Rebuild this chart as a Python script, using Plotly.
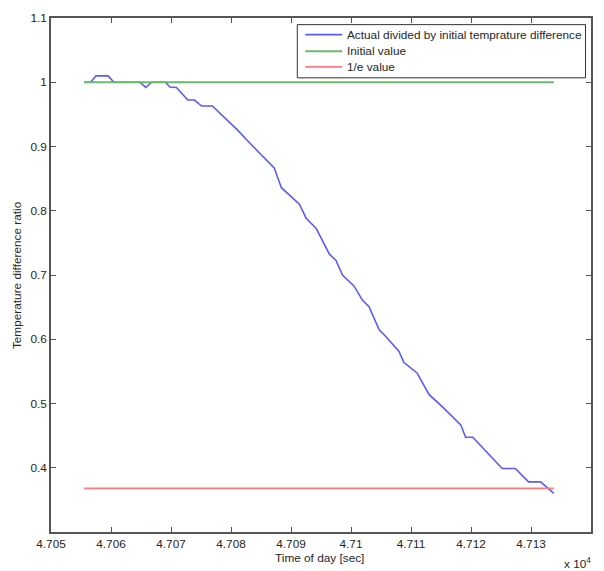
import plotly.graph_objects as go

# Measured ratio of actual to initial temperature difference
time_s = [47055.5, 47056.6, 47057.5, 47059.5, 47060.5, 47064.8, 47065.8, 47066.8,
          47069.1, 47069.8, 47070.9, 47072.8, 47073.9, 47075.1, 47076.9, 47080.2,
          47081.1, 47082.6, 47084.7, 47085.6, 47087.2, 47088.4, 47091.4, 47092.5,
          47094.2, 47096.4, 47097.5, 47098.6, 47100.5, 47101.9, 47103.0, 47104.7,
          47105.8, 47108.0, 47108.8, 47111.0, 47113.0, 47115.5, 47118.3, 47119.1,
          47120.3, 47125.2, 47127.4, 47129.6, 47131.6, 47133.8]
ratio = [1.0, 1.0, 1.01, 1.01, 1.0, 1.0, 0.992, 1.0,
         1.0, 0.9927, 0.9919, 0.9723, 0.9723, 0.963, 0.963, 0.9337,
         0.9255, 0.9105, 0.890, 0.8822, 0.8668, 0.8359, 0.8101, 0.7888,
         0.7726, 0.7324, 0.7227, 0.6995, 0.6830, 0.6609, 0.6506, 0.6146,
         0.6042, 0.5811, 0.5641, 0.5476, 0.5142, 0.4923, 0.4668, 0.4475,
         0.4475, 0.3988, 0.3988, 0.3780, 0.3780, 0.3602]

# Reference levels
ref_time = [47055.5, 47133.8]
initial_value = [1.0, 1.0]
inv_e_value = [0.3679, 0.3679]

x_ticks = [47050, 47060, 47070, 47080, 47090, 47100, 47110, 47120, 47130, 47140]
x_tick_labels = ["4.705", "4.706", "4.707", "4.708", "4.709", "4.71", "4.711", "4.712", "4.713", "4.714"]
y_ticks = [0.4, 0.5, 0.6, 0.7, 0.8, 0.9, 1.0, 1.1]
y_tick_labels = ["0.4", "0.5", "0.6", "0.7", "0.8", "0.9", "1", "1.1"]

series_names = ["Actual divided by initial temprature difference", "Initial value", "1/e value"]
series_colors = ["#5a5aff", "#6cb86c", "#ff7a7a"]

FONT = "Liberation Sans, Arial, Helvetica, sans-serif"
FS = 11.8
TXT = "#262626"
AX = "#555555"

fig = go.Figure()
fig.add_trace(go.Scatter(x=time_s, y=ratio, mode="lines", name=series_names[0],
                         line=dict(color=series_colors[0], width=1.6), showlegend=False))
fig.add_trace(go.Scatter(x=ref_time, y=initial_value, mode="lines", name=series_names[1],
                         line=dict(color=series_colors[1], width=1.8), showlegend=False))
fig.add_trace(go.Scatter(x=ref_time, y=inv_e_value, mode="lines", name=series_names[2],
                         line=dict(color=series_colors[2], width=1.8), showlegend=False))

axis_common = dict(showgrid=False, zeroline=False, showline=True, linecolor=AX,
                   linewidth=1.5, mirror="allticks", ticks="inside", ticklen=5,
                   tickcolor=AX, tickwidth=1,
                   tickfont=dict(family=FONT, size=FS, color=TXT))

fig.update_xaxes(range=[47050, 47140], tickvals=x_ticks, ticktext=x_tick_labels,
                 **axis_common)
fig.update_yaxes(range=[0.3, 1.1], tickvals=y_ticks, ticktext=y_tick_labels,
                 **axis_common)

# Boxed legend in the upper right corner of the axes
shapes = [dict(type="rect", xref="paper", yref="paper", x0=0.4561, x1=0.9898,
               y0=0.8836, y1=0.9871, fillcolor="white",
               line=dict(color="#333333", width=1), layer="above")]
annotations = []
row_y = [0.9678, 0.9353, 0.9048]
for name, color, yy in zip(series_names, series_colors, row_y):
    shapes.append(dict(type="line", xref="paper", yref="paper", x0=0.4709, x1=0.5392,
                       y0=yy, y1=yy, line=dict(color=color, width=1.8), layer="above"))
    annotations.append(dict(text=name, xref="paper", yref="paper", x=0.5442, y=yy,
                            xanchor="left", yanchor="middle", showarrow=False,
                            font=dict(family=FONT, size=FS, color=TXT)))

annotations += [
    dict(text="Time of day [sec]", xref="paper", yref="paper",
         x=0.497, y=-0.0502, xanchor="center", yanchor="middle",
         showarrow=False, font=dict(family=FONT, size=FS, color=TXT)),
    dict(text="Temperature difference ratio", xref="paper", yref="paper",
         x=-0.0628, y=0.5, xanchor="center", yanchor="middle", textangle=-90,
         showarrow=False, font=dict(family=FONT, size=FS, color=TXT)),
    dict(text="x 10<sup>4</sup>", xref="paper", yref="paper",
         x=0.947, y=-0.062, xanchor="left", yanchor="middle",
         showarrow=False, font=dict(family=FONT, size=FS, color=TXT)),
]

fig.update_layout(
    width=604, height=571,
    margin=dict(l=51, r=11.5, t=14, b=39),
    paper_bgcolor="white", plot_bgcolor="white",
    font=dict(family=FONT, size=FS, color=TXT),
    showlegend=False,
    shapes=shapes,
    annotations=annotations,
)

fig.write_html("out.html")
